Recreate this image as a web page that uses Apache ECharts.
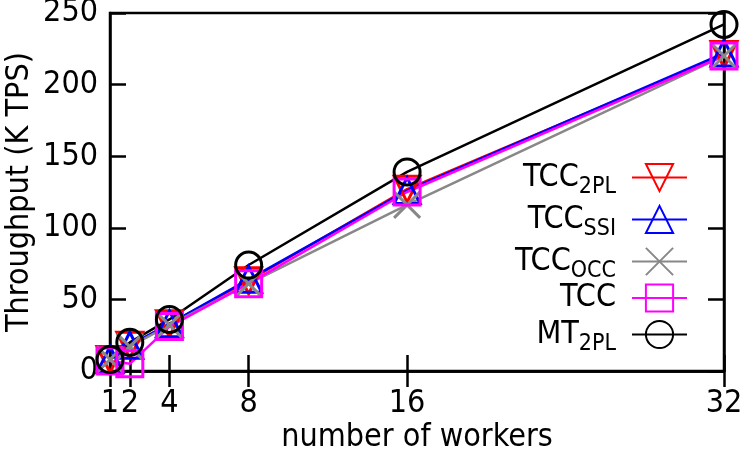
<!DOCTYPE html>
<html>
<head>
<meta charset="utf-8">
<script src="https://cdn.jsdelivr.net/npm/echarts@6/dist/echarts.min.js"></script>
<style>
  html, body { margin: 0; padding: 0; background: #fff; }
  #chart { width: 750px; height: 450px; }
</style>
</head>
<body>
<div id="chart"></div>
<script>
const workers = [1, 2, 4, 8, 16, 32]
const yTicks = [0, 50, 100, 150, 200, 250]

const tcc2pl = [8, 18, 33, 63, 127, 221]
const tccSsi = [8, 18, 33, 64, 126, 222]
const tccOcc = [8, 17, 32, 61, 116, 220]
const tcc = [7, 5, 31, 61, 125, 220]
const mt2pl = [8, 20, 36, 74, 139, 242]

// name, sub-script, colour, symbol, rotate, values
const SERIES = [
  ['TCC', '2PL', '#ff0000', 'triangle', 180, tcc2pl],
  ['TCC', 'SSI', '#0000ff', 'triangle', 0, tccSsi],
  ['TCC', 'OCC', '#888888', 'path://M0,0L10,10M10,0L0,10', 0, tccOcc],
  ['TCC', '', '#ff00ff', 'rect', 0, tcc],
  ['MT', '2PL', '#000000', 'circle', 0, mt2pl]
]

const FONT = 'DejaVu Sans Condensed'
const FS = 32
const chart = echarts.init(document.getElementById('chart'))

const subOf = {}
SERIES.forEach(s => { subOf[s[0] + s[1]] = [s[0], s[1]] })

const tickStyle = { show: true, inside: true, length: 16, lineStyle: { color: '#000', width: 2.5 } }

chart.setOption({
  animation: false,
  textStyle: { fontFamily: FONT },
  grid: {
    left: 110, right: 26, top: 13, bottom: 79,
    outerBoundsMode: 'none', containLabel: false,
    show: true, borderColor: '#000', borderWidth: 2.5
  },
  legend: {
    orient: 'vertical',
    align: 'right',
    right: 57,
    top: 151,
    itemWidth: 55,
    itemHeight: 34,
    itemGap: -1,
    data: SERIES.map(s => s[0] + s[1]),
    formatter: name => {
      const [main, sub] = subOf[name]
      return sub ? '{m|' + main + '}{s|' + sub + '}' : '{e|' + main + '}'
    },
    textStyle: {
      fontFamily: FONT,
      rich: {
        m: { fontFamily: FONT, fontSize: FS, lineHeight: 36, color: '#000' },
        e: { fontFamily: FONT, fontSize: FS, lineHeight: 36, padding: [0, 11, 0, 0], color: '#000' },
        s: { fontFamily: FONT, fontSize: 23, lineHeight: 16, padding: [20, 11, 0, 0], color: '#000' }
      }
    }
  },
  xAxis: [{
    type: 'value',
    min: 1,
    max: 32,
    name: 'number of workers',
    nameLocation: 'middle',
    nameGap: 51,
    nameMoveOverlap: false,
    nameTextStyle: { fontFamily: FONT, fontSize: FS, color: '#000' },
    axisLine: { show: true, lineStyle: { color: '#000', width: 2.5 } },
    axisTick: Object.assign({ customValues: workers }, tickStyle),
    axisLabel: { customValues: workers, fontFamily: FONT, fontSize: FS, color: '#000', margin: 17 },
    splitLine: { show: false }
  }, {
    type: 'value',
    position: 'top',
    min: 1,
    max: 32,
    axisLine: { show: true, lineStyle: { color: '#000', width: 2.5 } },
    axisTick: Object.assign({ customValues: workers }, tickStyle),
    axisLabel: { show: false },
    splitLine: { show: false }
  }],
  yAxis: [{
    type: 'value',
    min: 0,
    max: 250,
    interval: 50,
    name: 'Throughput (K TPS)',
    nameLocation: 'middle',
    nameGap: 74,
    nameMoveOverlap: false,
    nameTextStyle: { fontFamily: FONT, fontSize: FS, color: '#000' },
    axisLine: { show: true, lineStyle: { color: '#000', width: 2.5 } },
    axisTick: Object.assign({ customValues: yTicks }, tickStyle),
    axisLabel: { customValues: yTicks, fontFamily: FONT, fontSize: FS, color: '#000', margin: 12 },
    splitLine: { show: false }
  }, {
    type: 'value',
    position: 'right',
    min: 0,
    max: 250,
    interval: 50,
    axisLine: { show: true, lineStyle: { color: '#000', width: 2.5 } },
    axisTick: Object.assign({ customValues: yTicks }, tickStyle),
    axisLabel: { show: false },
    splitLine: { show: false }
  }],
  series: SERIES.map(s => ({
    name: s[0] + s[1],
    type: 'line',
    data: workers.map((w, i) => [w, s[5][i]]),
    symbol: s[3],
    symbolRotate: s[4],
    symbolSize: 26,
    showAllSymbol: true,
    lineStyle: { color: s[2], width: 2.5 },
    itemStyle: { color: 'transparent', borderColor: s[2], borderWidth: 3 }
  }))
})
</script>
</body>
</html>
